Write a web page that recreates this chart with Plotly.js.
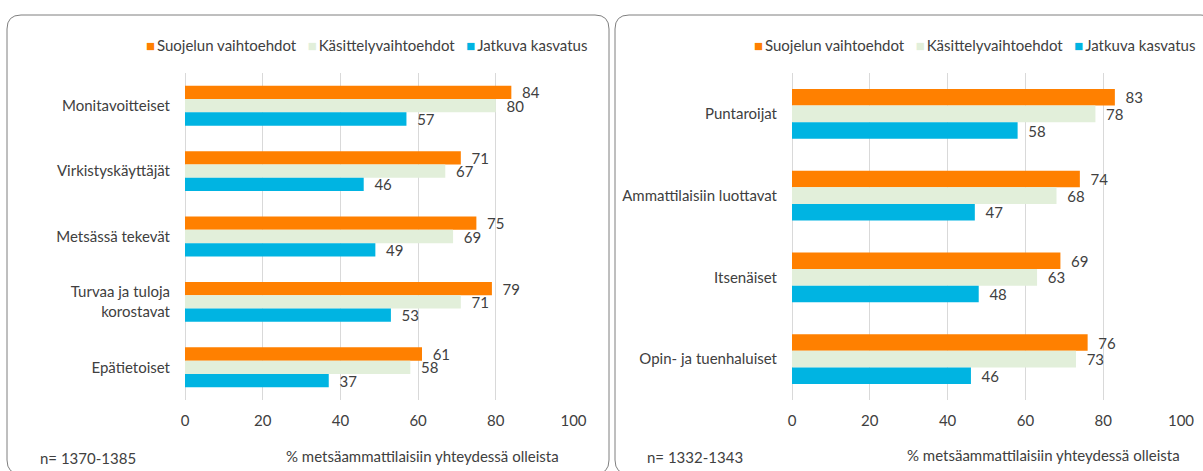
<!DOCTYPE html>
<html>
<head>
<meta charset="utf-8">
<script src="https://cdn.plot.ly/plotly-3.0.1.min.js"></script>
<style>
  html, body { margin: 0; padding: 0; background: #ffffff; }
  #chart { width: 1203px; height: 471px; }
</style>
</head>
<body>
<div id="chart"></div>
<script>
// ---------- data ----------
const seriesNames = ['Suojelun vaihtoehdot', 'Käsittelyvaihtoehdot', 'Jatkuva kasvatus'];
const seriesColors = ['#FF8000', '#E2EFDA', '#00B4E2'];

const leftCategories = ['Monitavoitteiset', 'Virkistyskäyttäjät', 'Metsässä tekevät', 'Turvaa ja tuloja<br>korostavat', 'Epätietoiset'];
const leftSuojelu   = [84, 71, 75, 79, 61];
const leftKasittely = [80, 67, 69, 71, 58];
const leftJatkuva   = [57, 46, 49, 53, 37];

const rightCategories = ['Puntaroijat', 'Ammattilaisiin luottavat', 'Itsenäiset', 'Opin- ja tuenhaluiset'];
const rightSuojelu   = [83, 74, 69, 76];
const rightKasittely = [78, 68, 63, 73];
const rightJatkuva   = [58, 47, 48, 46];

const xTickValues = [0, 20, 40, 60, 80, 100];
const xTitleText = '% metsäammattilaisiin yhteydessä olleista';
const leftNote = 'n= 1370-1385';
const rightNote = 'n= 1332-1343';

// ---------- layout helpers ----------
const W = 1203, H = 471;
const px = v => v / W;
const py = v => 1 - v / H;
const FONT = 'Lato, "Liberation Sans", sans-serif';
const TXT = '#404040';

function makeTraces(cats, vals, xa, ya) {
  return vals.map((v, i) => ({
    type: 'bar', orientation: 'h',
    name: seriesNames[i], y: cats, x: v,
    xaxis: xa, yaxis: ya,
    marker: { color: seriesColors[i], line: { width: 0 } },
    texttemplate: '\u00a0\u00a0%{x}',
    textposition: 'outside', constraintext: 'none', cliponaxis: false,
    textfont: { family: FONT, size: 15, color: TXT },
    showlegend: false, hoverinfo: 'x+name'
  }));
}

const data = [
  ...makeTraces(leftCategories, [leftSuojelu, leftKasittely, leftJatkuva], 'x', 'y'),
  ...makeTraces(rightCategories, [rightSuojelu, rightKasittely, rightJatkuva], 'x2', 'y2')
];

function xAxis(domain, anchor) {
  return {
    domain: domain, anchor: anchor, range: [0, 100], tickvals: xTickValues,
    showgrid: true, gridcolor: '#D9D9D9', gridwidth: 1,
    zeroline: true, zerolinecolor: '#D9D9D9', zerolinewidth: 1,
    showline: false, ticks: '', ticklabelstandoff: 10,
    tickfont: { family: FONT, size: 15, color: TXT }, fixedrange: true
  };
}
function yAxis(domain, anchor) {
  return {
    domain: domain, anchor: anchor, type: 'category', autorange: 'reversed',
    showgrid: false, zeroline: false, showline: false, ticks: '',
    ticklabelstandoff: 14,
    tickfont: { family: FONT, size: 15, color: TXT }, fixedrange: true
  };
}

function roundedPanel(x0, y0, x1, y1, r) {
  const p = (x, y) => px(x) + ',' + py(y);
  return 'M' + p(x0 + r, y0) + ' L' + p(x1 - r, y0) + ' Q' + p(x1, y0) + ' ' + p(x1, y0 + r) +
         ' L' + p(x1, y1 - r) + ' Q' + p(x1, y1) + ' ' + p(x1 - r, y1) +
         ' L' + p(x0 + r, y1) + ' Q' + p(x0, y1) + ' ' + p(x0, y1 - r) +
         ' L' + p(x0, y0 + r) + ' Q' + p(x0, y0) + ' ' + p(x0 + r, y0) + ' Z';
}

function legendText() {
  return seriesNames.map((n, i) =>
    '<span style="color:' + seriesColors[i] + '">\u25A0</span>\u2009' + n
  ).join('\u00a0\u00a0\u00a0');
}

const yDom = [py(400), py(73)];
const layout = {
  width: W, height: H,
  margin: { l: 0, r: 0, t: 0, b: 0 },
  paper_bgcolor: '#ffffff', plot_bgcolor: 'rgba(0,0,0,0)',
  font: { family: FONT, size: 15, color: TXT },
  barmode: 'group', bargap: 0.39, bargroupgap: 0,
  showlegend: false,
  xaxis: xAxis([px(185), px(573.5)], 'y'),
  yaxis: yAxis(yDom, 'x'),
  xaxis2: xAxis([px(792), px(1181)], 'y2'),
  yaxis2: yAxis(yDom, 'x2'),
  shapes: [
    { type: 'path', xref: 'paper', yref: 'paper', path: roundedPanel(7, 15, 609, 474, 14),
      line: { color: '#7F7F7F', width: 1 }, fillcolor: 'rgba(0,0,0,0)', layer: 'below' },
    { type: 'path', xref: 'paper', yref: 'paper', path: roundedPanel(615, 15, 1215, 474, 14),
      line: { color: '#7F7F7F', width: 1 }, fillcolor: 'rgba(0,0,0,0)', layer: 'below' }
  ],
  annotations: [
    { xref: 'paper', yref: 'paper', x: px(589), y: py(45), xanchor: 'right', yanchor: 'middle',
      text: legendText(), showarrow: false, font: { family: FONT, size: 15, color: TXT } },
    { xref: 'paper', yref: 'paper', x: px(1197), y: py(45), xanchor: 'right', yanchor: 'middle',
      text: legendText(), showarrow: false, font: { family: FONT, size: 15, color: TXT } },
    { xref: 'paper', yref: 'paper', x: px(422), y: py(456), xanchor: 'center', yanchor: 'middle',
      text: xTitleText, showarrow: false, font: { family: FONT, size: 15, color: TXT } },
    { xref: 'paper', yref: 'paper', x: px(1043), y: py(455), xanchor: 'center', yanchor: 'middle',
      text: xTitleText, showarrow: false, font: { family: FONT, size: 15, color: TXT } },
    { xref: 'paper', yref: 'paper', x: px(38), y: py(458), xanchor: 'left', yanchor: 'middle',
      text: leftNote, showarrow: false, font: { family: FONT, size: 15, color: TXT } },
    { xref: 'paper', yref: 'paper', x: px(645), y: py(457), xanchor: 'left', yanchor: 'middle',
      text: rightNote, showarrow: false, font: { family: FONT, size: 15, color: TXT } }
  ]
};

Plotly.newPlot('chart', data, layout, { displayModeBar: false, staticPlot: true });
</script>
</body>
</html>
